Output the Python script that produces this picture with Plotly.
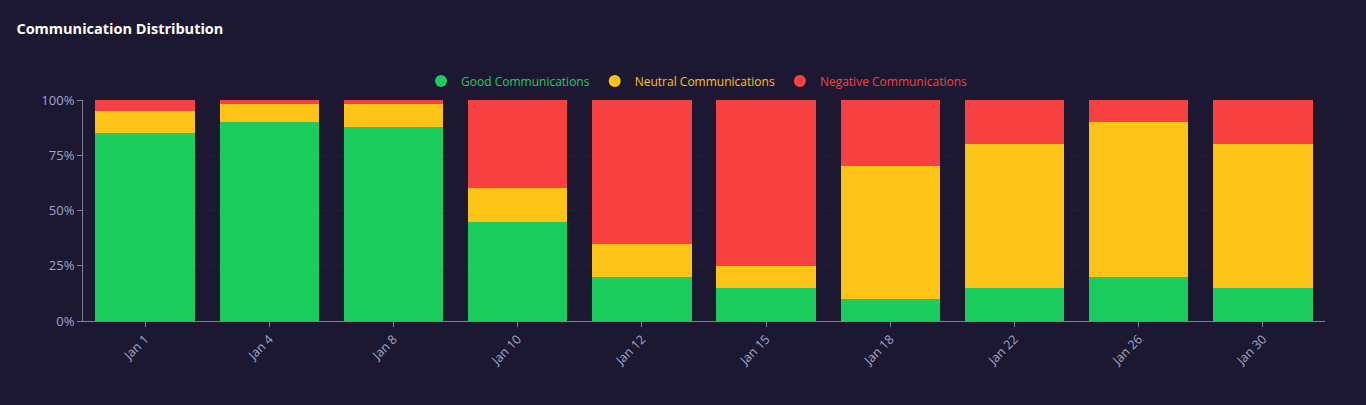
from plotly import graph_objects as go

dates = ["Jan 1", "Jan 4", "Jan 8", "Jan 10", "Jan 12", "Jan 15", "Jan 18", "Jan 22", "Jan 26", "Jan 30"]
good = [85, 90, 88, 45, 20, 15, 10, 15, 20, 15]
neutral = [10, 8, 10, 15, 15, 10, 60, 65, 70, 65]
negative = [5, 2, 2, 40, 65, 75, 30, 20, 10, 20]
pct_ticks = [0, 25, 50, 75, 100]

series = [
    ("Good Communications", good, "#1ccc5f"),
    ("Neutral Communications", neutral, "#fdc317"),
    ("Negative Communications", negative, "#f74040"),
]

BG = "#1c1832"
AXIS = "#7d7f9e"
TICK = "#a3a7c4"

fig = go.Figure()
for name, vals, color in series:
    fig.add_trace(go.Bar(x=dates, y=vals, name=name, marker_color=color,
                         marker_line_width=0, showlegend=False,
                         hovertemplate="%{x}<br>" + name + ": %{y}%<extra></extra>"))

# legend entries with round markers and coloured text
for name, vals, color in series:
    fig.add_trace(go.Scatter(x=[None], y=[None], mode="markers",
                             marker=dict(color=color, size=12, symbol="circle"),
                             name=f"<span style='color:{color}'>{name}</span>"))

fig.update_layout(
    barmode="stack",
    bargap=0.2,
    paper_bgcolor=BG,
    plot_bgcolor=BG,
    width=1366, height=405,
    margin=dict(l=83, r=41, t=100, b=84),
    font=dict(family="Open Sans, Noto Sans, sans-serif", size=12, color=TICK),
    title=dict(text="<b>Communication Distribution</b>", x=0.012, xanchor="left",
               y=0.928, yanchor="middle", font=dict(size=14.5, color="#ffffff")),
    legend=dict(orientation="h", x=0.494, xanchor="center", y=1.086, yanchor="middle",
                font=dict(size=12), traceorder="normal",
                itemwidth=30, bgcolor="rgba(0,0,0,0)"),
    showlegend=True,
)
fig.update_xaxes(showline=True, linecolor=AXIS, linewidth=1, ticks="outside",
                 tickcolor=AXIS, ticklen=5, tickangle=-45, showgrid=False,
                 tickfont=dict(size=12.5, color=TICK))
fig.update_yaxes(range=[0, 100], tickvals=pct_ticks,
                 ticktext=[f"{v}%" for v in pct_ticks],
                 showline=True, linecolor=AXIS, linewidth=1, ticks="outside",
                 tickcolor=AXIS, ticklen=5, showgrid=True,
                 gridcolor="rgba(255,255,255,0.035)", griddash="dash", zeroline=False,
                 tickfont=dict(size=13, color=TICK))

fig.write_html("out.html", config={"displayModeBar": False},
               post_script="document.body.style.margin='0';"
                           "document.body.style.background='%s';" % BG)
